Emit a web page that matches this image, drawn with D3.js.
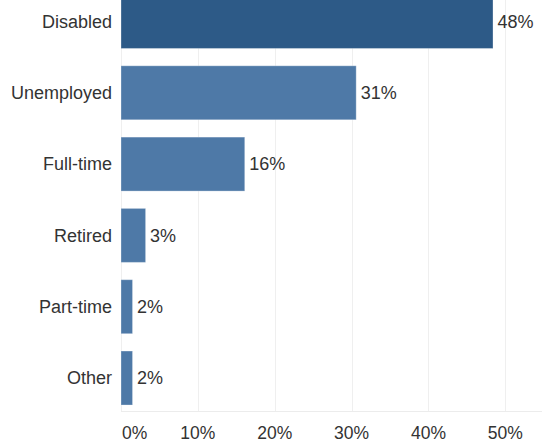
<!DOCTYPE html>
<html>
<head>
<meta charset="utf-8">
<script src="https://cdn.jsdelivr.net/npm/d3@7"></script>
<style>
  body { margin: 0; background: #fff; }
  svg text { font-family: "Liberation Sans", Arial, sans-serif; fill: #333; }
</style>
</head>
<body>
<div id="chart"></div>
<script>
// Employment status shares (percent)
var categories = ["Disabled", "Unemployed", "Full-time", "Retired", "Part-time", "Other"];
var values = [48.4, 30.6, 16.1, 3.2, 1.5, 1.5];
var tickValues = [0, 10, 20, 30, 40, 50];

var width = 542, height = 441;

var svg = d3.select("#chart").append("svg")
    .attr("width", width)
    .attr("height", height);

var x = d3.scaleLinear().domain([0, 50]).range([121, 505.3]);
var y = d3.scaleBand()
    .domain(categories)
    .range([-11.5, 411])
    .paddingInner(0.243)
    .paddingOuter(0.084);

// Gridlines
svg.append("g").selectAll("line")
    .data(tickValues)
    .enter().append("line")
    .attr("x1", function (d) { return Math.round(x(d)) + 0.5; })
    .attr("x2", function (d) { return Math.round(x(d)) + 0.5; })
    .attr("y1", 0)
    .attr("y2", 411)
    .style("stroke", "#efefef")
    .style("stroke-width", 1);

// baseline
svg.append("line")
    .attr("x1", x(0))
    .attr("x2", width)
    .attr("y1", 411.5)
    .attr("y2", 411.5)
    .style("stroke", "#ececec")
    .style("stroke-width", 1);

// Bars
svg.append("g").selectAll("rect")
    .data(categories)
    .enter().append("rect")
    .attr("x", x(0))
    .attr("y", function (d) { return y(d); })
    .attr("width", function (d, i) { return x(values[i]) - x(0); })
    .attr("height", y.bandwidth())
    .style("fill", function (d, i) { return i === 0 ? "#2d5a87" : "#4e79a7"; })
    .style("stroke", "rgba(255,255,255,0.3)")
    .style("stroke-width", 1);

// Category labels
svg.append("g").selectAll("text")
    .data(categories)
    .enter().append("text")
    .attr("x", 112)
    .attr("y", function (d) { return y(d) + y.bandwidth() / 2; })
    .attr("dy", "0.35em")
    .attr("text-anchor", "end")
    .style("font-size", "18px")
    .text(function (d) { return d; });

// Value labels
svg.append("g").selectAll("text")
    .data(categories)
    .enter().append("text")
    .attr("x", function (d, i) { return x(values[i]) + 4.5; })
    .attr("y", function (d) { return y(d) + y.bandwidth() / 2; })
    .attr("dy", "0.35em")
    .style("font-size", "18px")
    .text(function (d, i) { return Math.round(values[i]) + "%"; });

// X tick labels
svg.append("g").selectAll("text")
    .data(tickValues)
    .enter().append("text")
    .attr("x", function (d) { return d === 0 ? x(d) + 1 : x(d); })
    .attr("y", 438.5)
    .attr("text-anchor", function (d) { return d === 0 ? "start" : "middle"; })
    .style("font-size", "17.5px")
    .text(function (d) { return d + "%"; });
</script>
</body>
</html>
